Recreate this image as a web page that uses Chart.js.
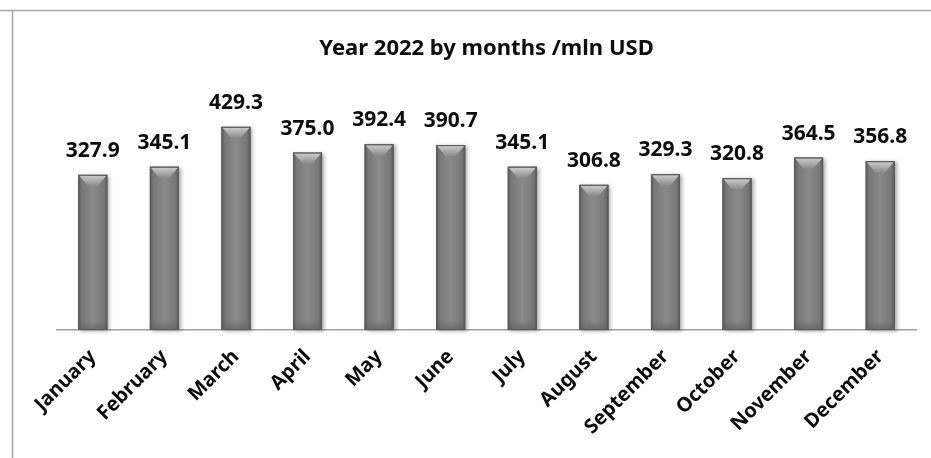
<!DOCTYPE html>
<html>
<head>
<meta charset="utf-8">
<script src="https://cdn.jsdelivr.net/npm/chart.js@4.4.1/dist/chart.umd.min.js"></script>
<style>
  html, body { margin: 0; padding: 0; background: #fff; }
  #wrap { width: 931px; height: 458px; position: relative; }
</style>
</head>
<body>
<div id="wrap"><canvas id="myChart" width="931" height="458"></canvas></div>
<script>
// data
var months = ['January', 'February', 'March', 'April', 'May', 'June',
              'July', 'August', 'September', 'October', 'November', 'December'];
var exports2022 = [327.9, 345.1, 429.3, 375.0, 392.4, 390.7,
                   345.1, 306.8, 329.3, 320.8, 364.5, 356.8];
var chartTitle = 'Year 2022 by months /mln USD';

var FONT = '"Noto Sans", "Open Sans", sans-serif';

// outer frame (top and left edge of the sheet box)
var framePlugin = {
    id: 'frame',
    beforeDraw: function(chart) {
        var ctx = chart.ctx;
        ctx.save();
        ctx.strokeStyle = '#a6a6a6';
        ctx.lineWidth = 1.5;
        ctx.beginPath();
        ctx.moveTo(0, 10.5);
        ctx.lineTo(chart.width, 10.5);
        ctx.moveTo(12.5, 10.5);
        ctx.lineTo(12.5, chart.height);
        ctx.stroke();
        ctx.restore();
    }
};

// shaded bars with bevel top + value labels
var barLook = {
    id: 'barLook',
    afterDatasetsDraw: function(chart) {
        var ctx = chart.ctx;
        var meta = chart.getDatasetMeta(0);
        meta.data.forEach(function(bar, i) {
            var p = bar.getProps(['x', 'y', 'base', 'width'], true);
            var left = p.x - p.width / 2, right = p.x + p.width / 2;
            var top = p.y, bottom = p.base;

            ctx.save();
            ctx.shadowColor = 'rgba(0,0,0,0.35)';
            ctx.shadowBlur = 4;
            ctx.shadowOffsetX = 2;
            ctx.shadowOffsetY = 1;
            var g = ctx.createLinearGradient(left, 0, right, 0);
            g.addColorStop(0, '#5a5a5a');
            g.addColorStop(0.12, '#787878');
            g.addColorStop(0.5, '#8a8a8a');
            g.addColorStop(0.88, '#787878');
            g.addColorStop(1, '#5a5a5a');
            ctx.fillStyle = g;
            ctx.fillRect(left, top, p.width, bottom - top);
            ctx.restore();

            // bevel on top
            ctx.save();
            var bg = ctx.createLinearGradient(0, top, 0, top + 11);
            bg.addColorStop(0, '#d0d0d0');
            bg.addColorStop(1, '#8c8c8c');
            ctx.fillStyle = bg;
            ctx.beginPath();
            ctx.moveTo(left + 1, top + 1);
            ctx.lineTo(right - 1, top + 1);
            ctx.lineTo(p.x + 5, top + 11);
            ctx.lineTo(p.x - 5, top + 11);
            ctx.closePath();
            ctx.fill();
            // darker foot
            var fg = ctx.createLinearGradient(0, bottom - 10, 0, bottom);
            fg.addColorStop(0, 'rgba(90,90,90,0)');
            fg.addColorStop(1, 'rgba(90,90,90,0.6)');
            ctx.fillStyle = fg;
            ctx.fillRect(left, bottom - 10, p.width, 10);
            ctx.strokeStyle = '#5b5b5b';
            ctx.lineWidth = 1;
            ctx.strokeRect(left + 0.5, top + 0.5, p.width - 1, bottom - top - 1);
            ctx.restore();

            // value label
            ctx.save();
            ctx.fillStyle = '#0d0d0d';
            ctx.font = 'bold 21px ' + FONT;
            ctx.textAlign = 'center';
            ctx.textBaseline = 'alphabetic';
            ctx.fillText(exports2022[i].toFixed(1), p.x, top - 18);
            ctx.restore();
        });
    }
};

var ctx = document.getElementById('myChart').getContext('2d');
var myBarChart = new Chart(ctx, {
    type: 'bar',
    data: {
        labels: months,
        datasets: [{
            data: exports2022,
            backgroundColor: '#7f7f7f',
            borderWidth: 0,
            barPercentage: 0.405,
            categoryPercentage: 1.0
        }]
    },
    options: {
        responsive: false,
        animation: false,
        layout: { padding: { left: 57, right: 15, top: 36, bottom: 0 } },
        plugins: {
            legend: { display: false },
            tooltip: { enabled: false },
            title: {
                display: true,
                text: chartTitle,
                color: '#0d0d0d',
                font: { family: FONT, size: 22, weight: 'bold', lineHeight: 1.2 },
                padding: { top: 0, bottom: 31 }
            }
        },
        scales: {
            y: {
                display: false,
                min: 0,
                max: 500
            },
            x: {
                grid: { display: false, drawTicks: false },
                border: { display: true, color: '#a0a0a0', width: 1.5 },
                ticks: {
                    color: '#0d0d0d',
                    font: { family: FONT, size: 20, weight: 'bold' },
                    minRotation: 45,
                    maxRotation: 45,
                    padding: 15,
                    autoSkip: false
                },
                afterFit: function(scale) {
                    scale.height = 128;
                    scale.paddingLeft = 0;
                    scale.paddingRight = 0;
                }
            }
        }
    },
    plugins: [framePlugin, barLook]
});
</script>
</body>
</html>
